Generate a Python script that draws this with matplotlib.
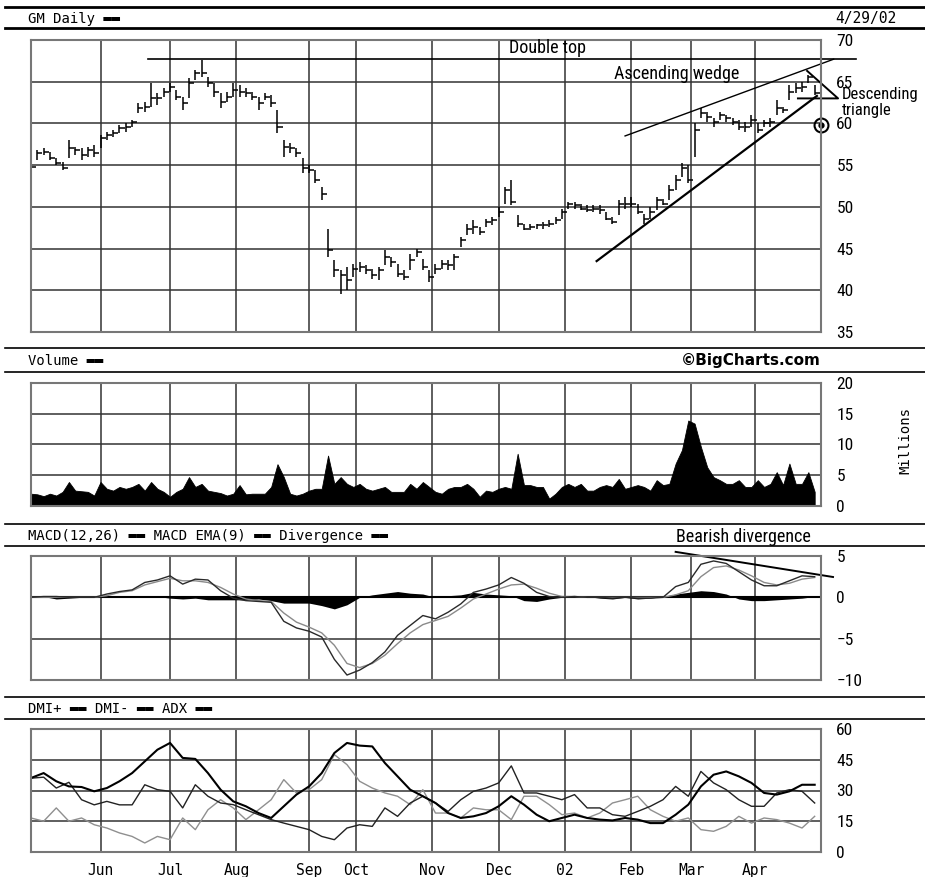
"""GM daily chart to 4/29/02 in the BigCharts layout: price bars, volume,
MACD and DMI panels, with the pattern notes drawn on top."""

import numpy as np
import matplotlib
matplotlib.use("Agg")
import matplotlib.pyplot as plt
from matplotlib import font_manager
from matplotlib.lines import Line2D

# price bars, one bar every 2 trading days
bar_high = [55.2, 56.8, 57.0, 56.6, 55.8, 55.4, 58.0, 57.2, 57.0, 57.2,
            57.4, 58.6, 59.0, 59.2, 59.8, 60.0, 60.4, 62.4, 62.6, 64.8,
            63.6, 64.2, 64.8, 64.0, 63.2, 65.4, 66.4, 67.6, 65.6, 64.8,
            63.6, 63.8, 64.8, 64.6, 64.2, 63.8, 63.2, 63.6, 63.4, 61.6,
            58.0, 57.6, 57.0, 55.8, 55.0, 54.4, 52.4, 47.4, 43.6, 42.4,
            42.8, 43.2, 43.4, 43.0, 42.6, 42.8, 44.8, 44.0, 43.2, 42.4,
            44.4, 45.0, 43.8, 42.4, 43.2, 43.6, 43.6, 44.4, 46.4, 48.0,
            48.4, 47.6, 48.6, 48.8, 50.0, 52.4, 53.2, 49.0, 48.0, 48.0,
            48.0, 48.2, 48.4, 48.8, 49.8, 50.6, 50.6, 50.4, 50.2, 50.2,
            50.2, 49.4, 48.8, 50.8, 51.2, 51.2, 50.4, 49.2, 50.0, 51.2,
            51.0, 52.6, 53.8, 55.2, 55.0, 60.0, 61.8, 61.4, 60.6, 61.4,
            61.0, 60.6, 60.4, 60.2, 61.0, 60.0, 60.4, 60.6, 62.8, 62.0,
            64.6, 64.8, 65.0, 65.8, 64.6]
bar_low = [54.4, 55.6, 56.2, 55.6, 55.0, 54.4, 55.8, 56.2, 55.6, 56.0,
           56.0, 57.0, 58.0, 58.4, 58.8, 59.0, 59.6, 61.2, 61.4, 62.0,
           62.2, 63.2, 63.8, 62.8, 61.6, 63.0, 65.2, 65.6, 64.4, 63.2,
           61.8, 62.6, 63.2, 63.2, 63.2, 62.8, 61.6, 62.8, 62.0, 58.8,
           56.0, 56.4, 56.0, 54.0, 54.0, 52.8, 50.8, 44.0, 41.6, 39.6,
           40.0, 41.6, 42.2, 42.0, 41.4, 41.2, 43.0, 42.8, 41.6, 41.2,
           42.4, 44.0, 42.4, 41.0, 42.0, 42.6, 42.4, 42.4, 45.2, 46.6,
           46.8, 46.6, 47.6, 47.8, 48.8, 50.4, 50.2, 47.6, 47.2, 47.2,
           47.4, 47.4, 47.6, 48.0, 48.6, 49.8, 49.8, 49.6, 49.4, 49.4,
           49.2, 48.4, 48.0, 49.0, 49.8, 50.0, 49.2, 48.0, 48.6, 49.6,
           50.2, 50.8, 52.0, 53.6, 52.8, 56.0, 60.6, 60.2, 59.6, 60.4,
           60.2, 59.8, 59.2, 59.0, 59.6, 58.8, 59.6, 59.6, 61.0, 61.2,
           62.8, 63.6, 63.8, 64.8, 63.4]
bar_close = [54.8, 56.4, 56.6, 55.8, 55.2, 54.6, 57.0, 56.8, 56.2, 56.8,
             56.4, 58.2, 58.6, 58.8, 59.4, 59.6, 60.2, 61.8, 62.0, 63.0,
             63.0, 63.8, 64.4, 63.2, 62.4, 64.8, 66.0, 66.0, 64.8, 63.8,
             62.6, 63.2, 64.0, 63.8, 63.6, 63.2, 62.4, 63.2, 62.4, 59.6,
             57.2, 57.0, 56.4, 54.6, 54.4, 53.2, 51.6, 44.8, 42.4, 41.8,
             41.2, 42.6, 42.8, 42.4, 41.8, 42.4, 44.0, 43.4, 42.0, 41.6,
             43.6, 44.6, 42.8, 41.6, 42.6, 43.2, 43.0, 44.0, 46.0, 47.4,
             47.6, 47.0, 48.2, 48.4, 49.4, 52.0, 50.6, 48.0, 47.4, 47.6,
             47.8, 47.8, 48.0, 48.4, 49.4, 50.4, 50.2, 49.8, 49.6, 49.8,
             49.6, 48.6, 48.2, 50.4, 50.4, 50.4, 49.4, 48.6, 49.4, 50.8,
             50.4, 52.0, 53.2, 54.6, 53.2, 59.2, 61.2, 60.8, 60.2, 61.0,
             60.6, 60.2, 59.6, 59.6, 60.4, 59.2, 60.0, 60.2, 61.8, 61.6,
             63.8, 64.2, 64.4, 65.6, 63.6]
volume_m = [2.0, 1.9, 1.6, 2.0, 1.7, 2.3, 3.9, 2.5, 2.4, 2.3,
            1.7, 3.9, 2.8, 2.5, 3.1, 2.8, 3.1, 3.6, 2.5, 3.9,
            2.8, 2.3, 1.5, 2.3, 2.8, 4.7, 3.1, 3.6, 2.5, 2.3,
            2.1, 1.7, 2.0, 3.4, 1.9, 2.0, 2.0, 2.0, 3.1, 6.8,
            4.7, 2.0, 1.7, 2.0, 2.5, 2.8, 2.8, 8.2, 3.6, 4.7,
            3.6, 3.1, 3.6, 2.8, 2.5, 2.8, 3.1, 2.3, 2.3, 2.3,
            3.6, 2.8, 3.9, 3.1, 2.3, 2.0, 2.8, 3.1, 3.1, 3.6,
            2.8, 1.5, 2.5, 2.3, 2.8, 3.1, 2.8, 8.5, 3.4, 3.4,
            3.1, 3.1, 1.2, 2.0, 3.1, 3.6, 3.1, 3.6, 2.5, 2.5,
            3.1, 3.4, 3.1, 4.4, 2.8, 3.1, 3.4, 3.1, 2.5, 4.2,
            3.4, 3.6, 6.9, 9.1, 13.9, 13.4, 9.6, 6.3, 4.7, 4.2,
            3.6, 3.6, 4.2, 3.1, 3.1, 4.2, 3.1, 3.6, 5.5, 3.4,
            6.9, 3.6, 3.6, 5.5, 2.3]

# indicators, one point every 4 trading days
macd_line = [0.0, 0.1, 0.1, 0.0, 0.0, 0.0, 0.4, 0.7, 0.9, 1.8,
             2.1, 2.6, 1.6, 2.2, 2.1, 0.8, -0.1, -0.4, -0.5, -0.6,
             -2.9, -3.7, -4.1, -4.8, -7.5, -9.4, -8.8, -7.9, -6.6, -4.6,
             -3.4, -2.2, -2.6, -1.8, -0.8, 0.6, 1.0, 1.5, 2.4, 1.7,
             0.6, 0.1, 0.0, 0.1, 0.0, 0.0, -0.1, 0.0, -0.1, -0.1,
             0.0, 1.3, 1.8, 4.0, 4.4, 4.1, 3.1, 2.1, 1.4, 1.4,
             2.0, 2.6, 2.5]
macd_signal = [0.0, 0.0, 0.0, 0.0, 0.0, 0.0, 0.2, 0.6, 0.8, 1.5,
               1.9, 2.3, 2.0, 2.0, 1.8, 1.2, 0.4, -0.2, -0.4, -0.5,
               -1.9, -3.0, -3.6, -4.3, -5.8, -8.0, -8.5, -8.0, -7.0, -5.6,
               -4.3, -3.3, -2.8, -2.3, -1.3, -0.2, 0.4, 1.0, 1.5, 1.6,
               1.1, 0.5, 0.1, 0.1, 0.0, 0.0, 0.0, 0.0, 0.0, 0.0,
               0.0, 0.3, 0.8, 2.5, 3.6, 3.8, 3.3, 2.6, 1.8, 1.5,
               1.7, 2.2, 2.4]
macd_divergence = [0.1, 0.1, -0.2, -0.1, 0.0, 0.0, 0.1, 0.0, 0.1, 0.1,
                   0.1, -0.1, -0.2, -0.1, -0.3, -0.3, -0.3, -0.3, -0.2, -0.4,
                   -0.7, -0.7, -0.7, -1.0, -1.4, -0.9, 0.0, 0.3, 0.5, 0.7,
                   0.5, 0.4, 0.0, 0.2, 0.3, 0.6, 0.4, 0.3, 0.2, -0.4,
                   -0.5, -0.2, 0.0, 0.2, 0.1, -0.1, -0.2, 0.0, -0.2, -0.1,
                   0.1, 0.4, 0.6, 0.8, 0.7, 0.4, -0.2, -0.4, -0.4, -0.3,
                   -0.2, -0.1, 0.1]
dmi_plus = [36.0, 36.5, 31.2, 34.0, 25.5, 23.0, 24.7, 23.0, 23.0, 32.8,
            30.4, 29.6, 21.5, 32.8, 27.2, 23.9, 23.1, 20.6, 18.2, 15.8,
            14.1, 12.5, 10.9, 7.6, 6.0, 11.7, 13.3, 12.5, 21.5, 17.4,
            23.9, 27.2, 23.9, 19.8, 25.5, 29.6, 31.2, 33.7, 42.0, 28.8,
            28.8, 27.2, 25.5, 28.0, 21.5, 21.5, 18.2, 17.4, 19.8, 22.3,
            25.5, 32.0, 27.2, 39.3, 33.7, 30.4, 25.5, 22.3, 22.3, 28.8,
            30.4, 29.6, 23.9]
dmi_minus = [16.6, 15.0, 21.5, 15.0, 16.6, 13.3, 11.7, 9.3, 7.6, 4.4,
             7.6, 6.0, 16.6, 10.9, 20.6, 25.5, 21.5, 15.8, 20.6, 25.5,
             35.3, 28.8, 30.4, 35.3, 47.5, 42.6, 34.5, 31.2, 28.8, 27.2,
             23.1, 30.4, 19.0, 19.0, 16.6, 21.5, 20.6, 20.6, 15.8, 27.2,
             27.2, 23.1, 18.2, 19.0, 16.6, 19.0, 23.9, 25.5, 27.2, 20.6,
             17.4, 15.0, 16.6, 10.9, 10.1, 12.5, 17.4, 14.1, 16.6, 15.8,
             14.1, 11.7, 17.4]
adx = [36.1, 38.5, 34.5, 32.0, 31.7, 29.6, 31.2, 34.5, 38.5, 44.2,
       49.9, 53.2, 45.9, 45.4, 38.5, 30.4, 24.7, 22.3, 19.0, 16.6,
       22.3, 28.0, 32.0, 38.5, 48.3, 53.2, 51.9, 51.5, 43.4, 36.9,
       30.4, 27.2, 23.9, 19.0, 16.6, 17.4, 19.0, 22.3, 27.2, 23.1,
       18.2, 15.0, 16.6, 18.2, 16.6, 15.8, 15.4, 16.6, 15.8, 14.1,
       14.1, 18.2, 23.1, 32.0, 37.7, 39.3, 36.9, 33.7, 28.8, 28.0,
       29.6, 32.8, 32.8]

# month starts, in trading days from the first bar
month_days = [22, 44, 65, 88, 103, 127, 148, 169, 190, 209, 229]
month_labels = ["Jun", "Jul", "Aug", "Sep", "Oct", "Nov", "Dec", "02",
                "Feb", "Mar", "Apr"]
N_DAYS = 250

W, H = 925, 877
GRID = "#333333"
MONO = ["DejaVu Sans Mono", "DejaVu Sans"]
BAR = "\u25ac\u25ac"


def narrow_font():
	"""Find a condensed sans for the notes, else plain Liberation Sans."""
	fonts = font_manager.fontManager.ttflist
	names = {f.name for f in fonts}
	for n in ("Liberation Sans Narrow", "Arial Narrow", "Roboto Condensed",
			"Open Sans Condensed", "Noto Sans Condensed"):
		if n in names:
			return {"family": n}, 13
	for n in ("Noto Sans", "Open Sans", "Roboto", "DejaVu Sans"):
		for f in fonts:
			if f.name == n and f.stretch in ("condensed", "semi-condensed"):
				return {"family": n, "stretch": f.stretch}, 13
	return {"family": "Liberation Sans"}, 10.5


NOTE, NOTE_SIZE = narrow_font()


def fy(py):
	return 1 - py / H


def panel(fig, top, bottom):
	ax = fig.add_axes([31 / W, fy(bottom), 790 / W, (bottom - top) / H])
	ax.set_xlim(0, N_DAYS)
	ax.set_xticks(month_days)
	ax.tick_params(axis="x", length=0, labelbottom=False)
	ax.yaxis.tick_right()
	ax.tick_params(axis="y", length=0, pad=11)
	ax.grid(True, color=GRID, lw=1.1)
	ax.set_axisbelow(True)
	for s in ax.spines.values():
		s.set_color("#777777")
		s.set_linewidth(1.5)
	return ax


def right_ticks(ax, ticks):
	ax.set_yticks(ticks)
	ax.set_yticklabels([str(v).replace("-", "\u2212") for v in ticks],
					fontsize=NOTE_SIZE - 0.5, **NOTE)


def header(fig, top, bottom, text, lw=1.2):
	for py in (top, bottom):
		fig.add_artist(Line2D([5 / W, 1], [fy(py), fy(py)], color="k", lw=lw))
	fig.text(28 / W, fy((top + bottom) / 2 + 1), text, family=MONO,
			fontsize=10, va="center", ha="left")


def note(ax, x, y, s, ha="center", size=None, **kw):
	return ax.text(x, y, s, ha=ha, va="center", fontsize=size or NOTE_SIZE,
				clip_on=False, **NOTE, **kw)


def main():
	plt.rcParams["font.family"] = ["Liberation Sans", "DejaVu Sans"]
	fig = plt.figure(figsize=(W / 100, H / 100), dpi=100)

	t_bar = np.arange(len(bar_close)) * 2
	t_ind = np.arange(len(adx)) * 4

	# price
	header(fig, 7, 28, "GM Daily " + BAR, lw=2.0)
	fig.text(835 / W, fy(19), "4/29/02", family=MONO, fontsize=10.5, va="center")
	ax = panel(fig, 40, 332)
	ax.set_ylim(35, 70)
	right_ticks(ax, list(range(35, 71, 5)))
	ax.vlines(t_bar, bar_low, bar_high, color="k", lw=1.1)
	ax.hlines(bar_close, t_bar, t_bar + 1.6, color="k", lw=1.1)

	ax.plot([37, 261], [67.7, 67.7], color="k", lw=1.2, clip_on=False)
	note(ax, 163.6, 69.0, "Double top")
	ax.plot([188, 254], [58.5, 67.7], color="k", lw=1.0, clip_on=False)
	ax.plot([179, 248.7], [43.5, 63.3], color="k", lw=1.6, clip_on=False)
	note(ax, 204.4, 65.9, "Ascending wedge")
	ax.plot([245.6, 255.4, 242.7], [66.3, 63.0, 63.0], color="k", lw=1.4,
			clip_on=False)
	small = NOTE_SIZE - 1
	note(ax, 256.6, 63.5, "Descending", ha="left", size=small)
	note(ax, 256.6, 61.5, "triangle", ha="left", size=small)
	ax.plot(250, 59.8, "o", ms=10, mfc="none", mec="k", mew=1.5, clip_on=False)
	ax.plot(250, 59.8, "o", ms=3.5, color="k", clip_on=False)
	ax.annotate("Target", xy=(252.6, 58.8), xytext=(261.7, 57.3),
				ha="left", va="center", fontsize=NOTE_SIZE, **NOTE,
				arrowprops=dict(arrowstyle="-|>", color="k", lw=1.2,
								shrinkA=1, shrinkB=0, mutation_scale=9))

	# volume
	header(fig, 348, 372, "Volume " + BAR)
	fig.text(821 / W, fy(361), "\u00a9BigCharts.com", family="DejaVu Sans",
			fontweight="bold", fontsize=11, ha="right", va="center")
	ax = panel(fig, 383, 506)
	ax.set_ylim(0, 20)
	right_ticks(ax, list(range(0, 21, 5)))
	ax.fill_between(t_bar, volume_m, color="k", lw=0.6)
	fig.text(905 / W, fy(440), "Millions", family=MONO, fontsize=10,
			rotation=90, ha="center", va="center")

	# MACD
	header(fig, 524, 546, f"MACD(12,26) {BAR} MACD EMA(9) {BAR} Divergence {BAR}")
	ax = panel(fig, 556, 680)
	ax.set_ylim(-10, 5)
	right_ticks(ax, [-10, -5, 0, 5])
	ax.fill_between(t_ind, macd_divergence, 0, color="k", lw=0)
	ax.axhline(0, color="k", lw=1.5)
	ax.plot(t_ind, macd_signal, color="#8a8a8a", lw=1.0)
	ax.plot(t_ind, macd_line, color="#2a2a2a", lw=1.0)
	ax.plot([204, 253.8], [5.5, 2.46], color="k", lw=1.4, clip_on=False)
	note(ax, 225.3, 7.3, "Bearish divergence")

	# DMI
	header(fig, 697, 719, f"DMI+ {BAR} DMI- {BAR} ADX {BAR}")
	ax = panel(fig, 729, 852)
	ax.set_ylim(0, 60)
	right_ticks(ax, list(range(0, 61, 15)))
	ax.plot(t_ind, dmi_minus, color="#8f8f8f", lw=1.0)
	ax.plot(t_ind, dmi_plus, color="#222222", lw=1.0)
	ax.plot(t_ind, adx, color="k", lw=1.5)
	ax.set_xticklabels(month_labels, family=MONO, fontsize=10.5)
	ax.tick_params(axis="x", labelbottom=True, pad=8)

	fig.savefig("out.png", dpi=100)
	plt.close(fig)


if __name__ == "__main__":
	main()
